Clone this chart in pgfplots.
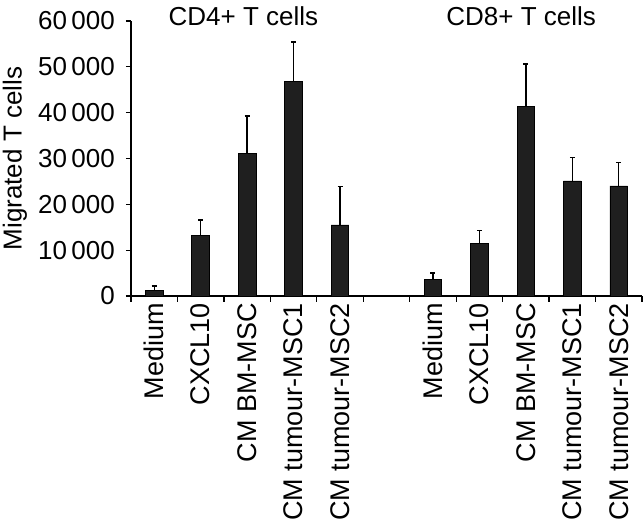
\documentclass[border=0pt]{standalone}
\usepackage{fontspec}
\setmainfont{Liberation Sans}
\usepackage{pgfplots}
\usepackage{pgfplotstable}
\pgfplotsset{compat=1.18}
\pgfplotstableread{
x y e
0 1200 1000
1 13300 3300
2 31100 8200
3 46800 8600
4 15500 8400
6 3600 1400
7 11500 2800
8 41300 9300
9 25100 5100
10 24000 5100
}\datatable
\begin{document}
\begin{tikzpicture}
\begin{axis}[
  name=ax,
  scale only axis,
  width=511bp, height=275bp,
  xmin=-0.5, xmax=10.5,
  ymin=0, ymax=60000,
  axis lines*=left,
  axis line style={line width=1.3bp},
  clip=false,
  font=\fontsize{26bp}{31bp}\selectfont,
  ytick={0,10000,...,60000},
  scaled y ticks=false,
  /pgf/number format/.cd, 1000 sep={\,}, assume math mode=true,
  /pgfplots/.cd,
  xtick={0,1,2,3,4,6,7,8,9,10},
  xticklabels={Medium,CXCL10,CM BM-MSC,CM tumour-MSC1,CM tumour-MSC2,Medium,CXCL10,CM BM-MSC,CM tumour-MSC1,CM tumour-MSC2},
  minor xtick={-0.5,0.5,...,10.5},
  major x tick style={draw=none},
  minor x tick style={line width=1.3bp, black},
  y tick style={line width=1.3bp, black},
  tick align=outside,
  major tick length=5bp,
  minor tick length=6bp,
  x tick label style={rotate=90, anchor=east, inner sep=2bp, font=\fontsize{27bp}{32bp}\selectfont},
  y tick label style={inner sep=2bp, xshift=-9bp},
  ylabel={Migrated T cells},
  y label style={at={(axis description cs:0,0.5)}, anchor=center, yshift=116bp},
]
\addplot[ybar, bar width=0.38, fill=black!88, draw=black, line width=0.8bp,
  error bars/.cd, y dir=plus, y explicit,
  error bar style={line width=1.3bp, black},
  error mark options={line width=1.3bp, mark size=2.5bp, black, rotate=90}]
  table[x=x, y=y, y error=e] {\datatable};
\node at (axis cs:1.92,61100) {CD4+ T cells};
\node at (axis cs:7.9,61100) {CD8+ T cells};
\end{axis}
\pgfresetboundingbox
\path[use as bounding box] ([xshift=-131bp,yshift=-230bp]ax.south west) rectangle ([xshift=1bp,yshift=21bp]ax.north east);
\end{tikzpicture}
\end{document}
